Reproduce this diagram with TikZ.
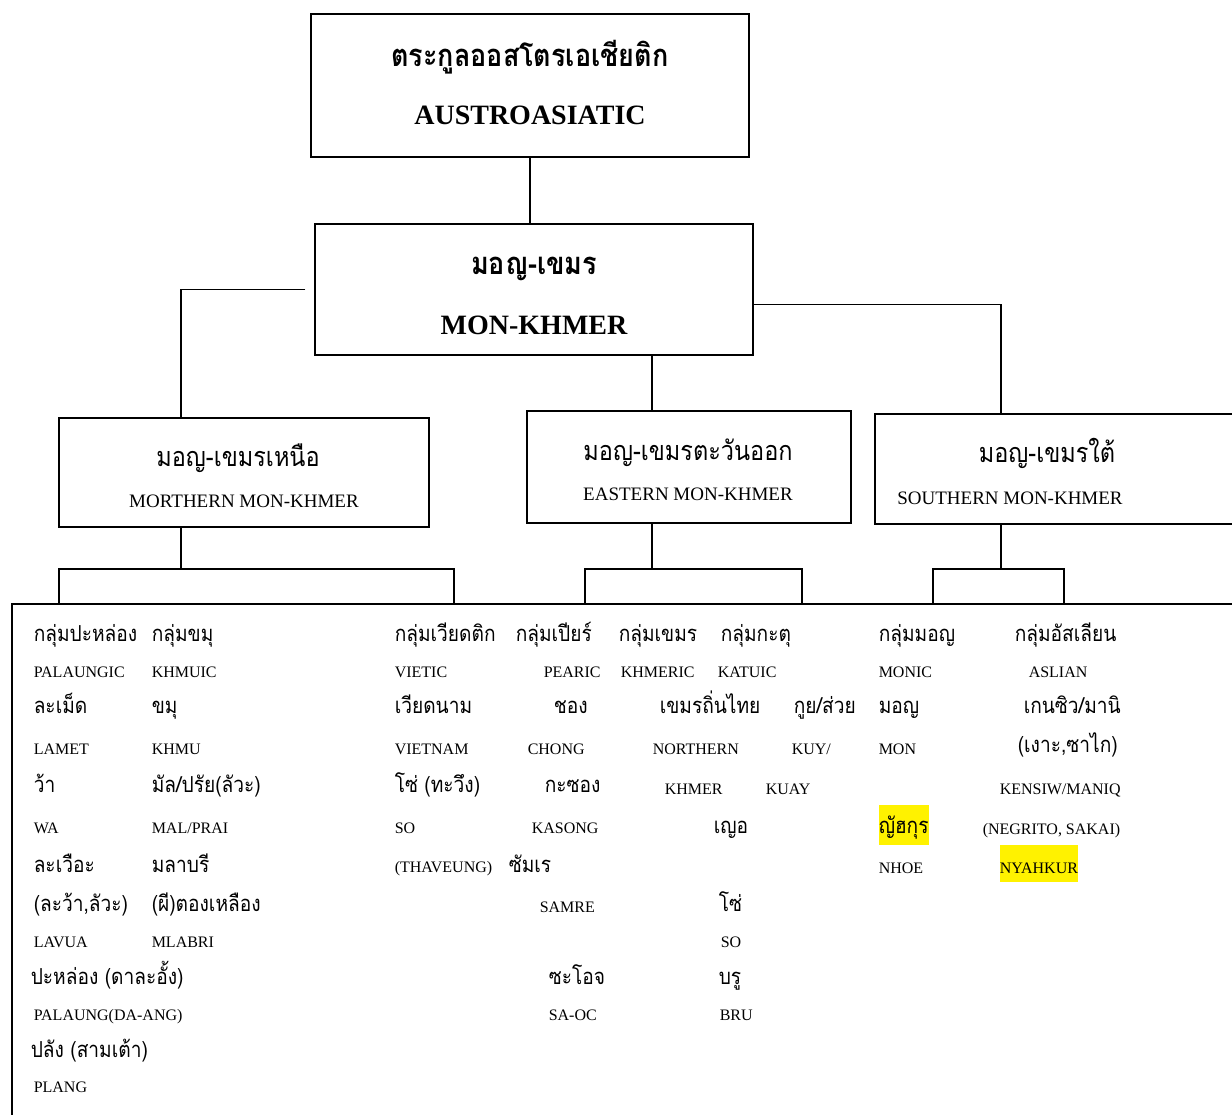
\documentclass[tikz,border=0pt]{standalone}
\usepackage{fontspec}
\setmainfont{Liberation Serif}
\newfontfamily\thaifont[Script=Thai,FakeStretch=0.87]{Loma}
\usetikzlibrary{positioning}

\begin{document}
\begin{tikzpicture}[x=1pt,y=-1pt,line width=1.5pt,
	box/.style={draw,rectangle,inner sep=0pt},
	hd/.style={anchor=base,inner sep=0pt},
	th/.style={anchor=base west,inner sep=0pt,font=\thaifont\fontsize{22}{22}\selectfont},
	en/.style={anchor=base west,inner sep=0pt,font=\fontsize{16}{16}\selectfont},
	hl/.style={fill=yellow,text height=28pt}]
	\useasboundingbox (0,0) rectangle (1232,1115);
	\clip (0,0) rectangle (1232,1115);

	\node[box,minimum width=438pt,minimum height=143pt] (aa) at (530,85.5) {};
	\node[box,minimum width=438pt,minimum height=131pt] (mk) at (534,289.5) {};
	\node[box,minimum width=370pt,minimum height=109pt] (nmk) at (244,472.5) {};
	\node[box,minimum width=324pt,minimum height=112pt] (emk) at (689,467) {};
	\node[box,minimum width=370pt,minimum height=110pt] (smk) at (1060,469) {};
	\node[box,anchor=north west,minimum width=1240pt,minimum height=530pt] (grp) at (11,603) {};

	\node[hd,font=\thaifont\bfseries\fontsize{31}{31}\selectfont] (aath) at (530,67) {ตระกูลออสโตรเอเชียติก};
	\node[hd,font=\bfseries\fontsize{28}{28}\selectfont] (aaen) at (530,125) {AUSTROASIATIC};
	\node[hd,font=\thaifont\bfseries\fontsize{31}{31}\selectfont] (mkth) at (534,275) {มอญ-เขมร};
	\node[hd,font=\bfseries\fontsize{28}{28}\selectfont] (mken) at (534,335) {MON-KHMER};
	\node[hd,font=\thaifont\fontsize{27}{27}\selectfont] (nmkth) at (238,466) {มอญ-เขมรเหนือ};
	\node[hd,font=\fontsize{19}{19}\selectfont] (nmken) at (244,507) {MORTHERN MON-KHMER};
	\node[hd,font=\thaifont\fontsize{27}{27}\selectfont] (emkth) at (688,460) {มอญ-เขมรตะวันออก};
	\node[hd,font=\fontsize{19}{19}\selectfont] (emken) at (688,500) {EASTERN MON-KHMER};
	\node[hd,font=\thaifont\fontsize{27}{27}\selectfont] (smkth) at (1047,462) {มอญ-เขมรใต้};
	\node[hd,font=\fontsize{19}{19}\selectfont] (smken) at (1010,504) {SOUTHERN MON-KHMER};

	\draw (aa.south) -- (aa.south |- mk.north);
	\draw ([xshift=-9pt]mk.west) -| ([xshift=-63pt]nmk.north);
	\draw ([xshift=118pt]mk.south) -- ([xshift=118pt]mk.south |- emk.north);
	\draw ([yshift=-15pt]mk.east) -| ([xshift=-59pt]smk.north);

	% brackets
	\coordinate (nbl) at (59,569);  \coordinate (nbr) at (454,569);
	\coordinate (ebl) at (585,569); \coordinate (ebr) at (802,569);
	\coordinate (sbl) at (933,569); \coordinate (sbr) at (1064,569);
	\draw ([xshift=-63pt]nmk.south) -- ([xshift=-63pt]nmk.south |- nbl);
	\draw (nbl |- grp.north) |- (nbr) -- (nbr |- grp.north);
	\draw ([xshift=-37pt]emk.south) -- ([xshift=-37pt]emk.south |- ebl);
	\draw (ebl |- grp.north) |- (ebr) -- (ebr |- grp.north);
	\draw ([xshift=-59pt]smk.south) -- ([xshift=-59pt]smk.south |- sbl);
	\draw (sbl |- grp.north) |- (sbr) -- (sbr |- grp.north);

	% palaungic
	\node[th] (a1) at (33,641) {กลุ่มปะหล่อง};
	\node[en] (a2) at (33,677) {PALAUNGIC};
	\node[th] (a3) at (33,713) {ละเม็ด};
	\node[en] (a4) at (33,754) {LAMET};
	\node[th] (a5) at (33,792) {ว้า};
	\node[en] (a6) at (33,833) {WA};
	\node[th] (a7) at (33,872) {ละเวือะ};
	\node[th] (a8) at (33,911) {(ละว้า,ลัวะ)};
	\node[en] (a9) at (33,947) {LAVUA};
	\node[th] (a10) at (30,984) {ปะหล่อง (ดาละอั้ง)};
	\node[en] (a11) at (33,1020) {PALAUNG(DA-ANG)};
	\node[th] (a12) at (30,1057) {ปลัง (สามเต้า)};
	\node[en] (a13) at (33,1092) {PLANG};
	% khmuic
	\node[th] (b1) at (151,641) {กลุ่มขมุ};
	\node[en] (b2) at (151,677) {KHMUIC};
	\node[th] (b3) at (151,713) {ขมุ};
	\node[en] (b4) at (151,754) {KHMU};
	\node[th] (b5) at (151,792) {มัล/ปรัย(ลัวะ)};
	\node[en] (b6) at (151,833) {MAL/PRAI};
	\node[th] (b7) at (151,872) {มลาบรี};
	\node[th] (b8) at (151,911) {(ผี)ตองเหลือง};
	\node[en] (b9) at (151,947) {MLABRI};
	% vietic
	\node[th] (c1) at (394,641) {กลุ่มเวียดติก};
	\node[en] (c2) at (394,677) {VIETIC};
	\node[th] (c3) at (394,713) {เวียดนาม};
	\node[en] (c4) at (394,754) {VIETNAM};
	\node[th] (c5) at (394,792) {โซ่ (ทะวึง)};
	\node[en] (c6) at (394,833) {SO};
	\node[en] (c7) at (394,872) {(THAVEUNG)};
	% pearic
	\node[th] (d1) at (515,641) {กลุ่มเปียร์};
	\node[en] (d2) at (543,677) {PEARIC};
	\node[th] (d3) at (553,713) {ชอง};
	\node[en] (d4) at (527,754) {CHONG};
	\node[th] (d5) at (544,792) {กะซอง};
	\node[en] (d6) at (531,833) {KASONG};
	\node[th] (d7) at (508,872) {ซัมเร};
	\node[en] (d8) at (539,912) {SAMRE};
	\node[th] (d10) at (548,984) {ซะโอจ};
	\node[en] (d11) at (548,1020) {SA-OC};
	% khmeric
	\node[th] (e1) at (618,641) {กลุ่มเขมร};
	\node[en] (e2) at (620,677) {KHMERIC};
	\node[th] (e3) at (659,713) {เขมรถิ่นไทย};
	\node[en] (e4) at (652,754) {NORTHERN};
	\node[en] (e5) at (664,794) {KHMER};
	\node[th] (e6) at (713,833) {เญอ};
	% katuic
	\node[th] (f1) at (720,641) {กลุ่มกะตุ};
	\node[en] (f2) at (717,677) {KATUIC};
	\node[th] (f3) at (793,713) {กูย/ส่วย};
	\node[en] (f4) at (791,754) {KUY/};
	\node[en] (f5) at (765,794) {KUAY};
	\node[th] (f8) at (718,911) {โซ่};
	\node[en] (f9) at (720,947) {SO};
	\node[th] (f10) at (718,984) {บรู};
	\node[en] (f11) at (719,1020) {BRU};
	% monic
	\node[th] (g1) at (878,641) {กลุ่มมอญ};
	\node[en] (g2) at (878,677) {MONIC};
	\node[th] (g3) at (878,713) {มอญ};
	\node[en] (g4) at (878,754) {MON};
	\node[th,hl,text depth=12pt] (g6) at (878,833) {ญัฮกุร};
	\node[en] (g7) at (878,873) {NHOE};
	% aslian
	\node[th] (h1) at (1014,641) {กลุ่มอัสเลียน};
	\node[en] (h2) at (1028,677) {ASLIAN};
	\node[th] (h3) at (1023,713) {เกนซิว/มานิ};
	\node[th] (h4) at (1017,752) {(เงาะ,ซาไก)};
	\node[en] (h5) at (999,794) {KENSIW/MANIQ};
	\node[en] (h6) at (982,834) {(NEGRITO, SAKAI)};
	\node[en,hl,text depth=9pt] (h7) at (999,873) {NYAHKUR};
\end{tikzpicture}
\end{document}
